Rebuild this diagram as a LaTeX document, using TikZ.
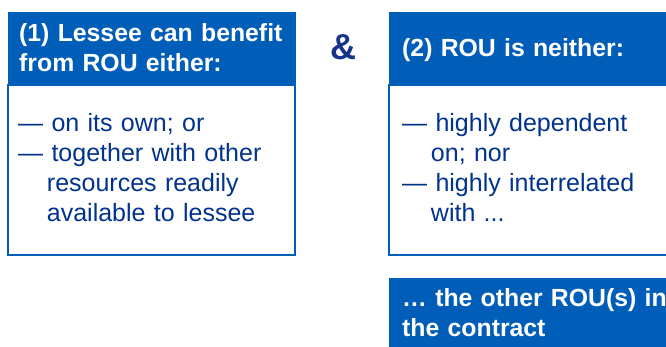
\documentclass[tikz,border=0pt]{standalone}
\usepackage{fontspec}
\setmainfont{Liberation Sans}
\definecolor{headblue}{RGB}{0,94,184}
\definecolor{textblue}{RGB}{0,51,141}
\definecolor{ampblue}{RGB}{22,52,140}

\begin{document}
\begin{tikzpicture}[x=1pt, y=-1pt,
    headtext/.style={text=white, font=\fontsize{24.8}{30}\selectfont\bfseries, text width=300pt, align=left, inner sep=0pt, anchor=base west},
    bodytext/.style={text=textblue, font=\fontsize{25}{30}\selectfont, text width=280pt, align=left, inner sep=0pt, anchor=base west}]
\useasboundingbox (0,0) rectangle (666,347);
\clip (0,0) rectangle (666,347);
% box (1)
\filldraw[headblue] (8,12) rectangle (295,85);
\draw[headblue, line width=1.5pt, fill=white] (8,85) rectangle (295,255);
\node[headtext] (head1) at (19,42) {(1) Lessee can benefit\\from ROU either:};
\node[bodytext] (body1) at (18,132) {— on its own; or\\— together with other\\\hspace*{1.15em}resources readily\\\hspace*{1.15em}available to lessee};
% and
\node[text=ampblue, font=\fontsize{36}{40}\selectfont\bfseries, inner sep=0pt] (amp) at (343,47) {\&};
% box (2)
\filldraw[headblue] (389,12) rectangle (700,85);
\draw[headblue, line width=1.5pt, fill=white] (389,85) rectangle (700,255);
\node[headtext] (head2) at (402,57) {(2) ROU is neither:};
\node[bodytext] (body2) at (402,132) {— highly dependent\\\hspace*{1.15em}on; nor\\— highly interrelated\\\hspace*{1.15em}with ...};
% box below (2)
\filldraw[headblue] (389,278) rectangle (700,360);
\node[headtext] (head3) at (402,306) {… the other ROU(s) in\\the contract};
\end{tikzpicture}
\end{document}
